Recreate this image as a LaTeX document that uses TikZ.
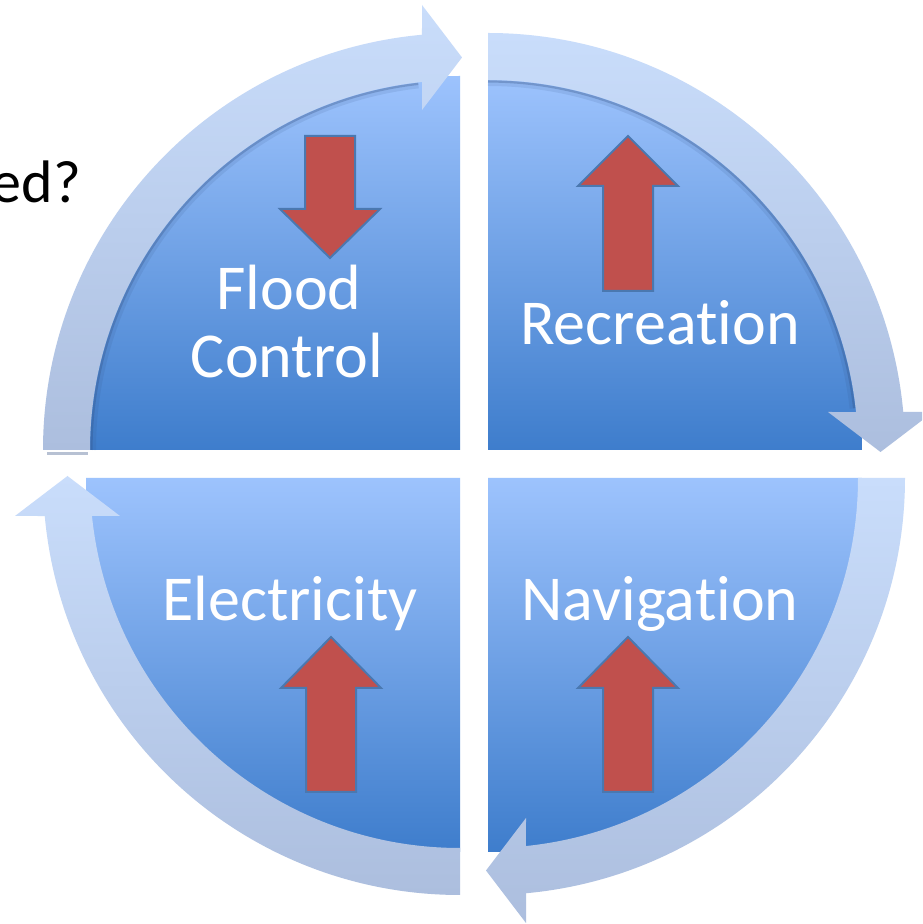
\documentclass[tikz,border=0pt]{standalone}
\usepackage{fontspec}
\setmainfont{Carlito}[Ligatures={NoCommon}]
\usetikzlibrary{calc}
\definecolor{sectorTop}{RGB}{157,195,253}
\definecolor{sectorBot}{RGB}{62,125,204}
\definecolor{ringTop}{RGB}{201,221,251}
\definecolor{ringBot}{RGB}{172,190,222}
\definecolor{ringShadow}{RGB}{50,80,130}
\definecolor{arrowRed}{RGB}{192,80,77}
\definecolor{arrowLine}{RGB}{74,120,176}
\tikzset{
  sectorshade/.style={top color=sectorTop, bottom color=sectorBot, draw=none},
  ringshade/.style={top color=ringTop, bottom color=ringBot, draw=none},
  redarrowstyle/.style={fill=arrowRed, draw=arrowLine, line width=2pt, line join=miter},
  whitelabel/.style={text=white, font=\fontsize{64}{68}\selectfont, inner sep=0pt, anchor=base},
  darklabel/.style={text=black, font=\fontsize{60}{64}\selectfont, inner sep=0pt, anchor=base east}
}
% ring arrow: #1 centre coordinate name, #2 rotation angle
\newcommand\ringarrow[2]{%
  \pgfmathsetmacro\rA{180+#2}%
  \pgfmathsetmacro\rB{95.23+#2}%
  \pgfmathsetmacro\rC{90+#2}%
  \pgfmathsetmacro\rD{95.89+#2}%
  \pgfmathsetmacro\rE{#2}%
  \path[ringshade] ($(#1)+(\rA:417pt)$) arc[start angle=\rA, end angle=\rB, radius=417pt]
     -- ($(#1)+(\rC:445pt)+(\rA:38pt)$)
     -- ($(#1)+(\rC:392.5pt)+(\rE:2pt)$)
     -- ($(#1)+(\rC:340pt)+(\rA:38pt)$)
     -- ($(#1)+(\rD:370pt)$) arc[start angle=\rD, end angle=\rA, radius=370pt] -- cycle;
}
\newcommand\ringshadow[2]{%
  \pgfmathsetmacro\rA{180+#2}%
  \pgfmathsetmacro\rD{96.5+#2}%
  \draw[ringShadow, opacity=0.12, line width=6pt] ($(#1)+(\rA:367pt)$) arc[start angle=\rA, end angle=\rD, radius=367pt];
  \draw[ringShadow, opacity=0.30, line width=2.2pt] ($(#1)+(\rA:368.5pt)$) arc[start angle=\rA, end angle=\rD, radius=368.5pt];
}
% red arrow: centre x, tip y, head-base y, shaft-end y
\newcommand\redarrow[4]{%
  \draw[redarrowstyle] (#1-25,#4) -- (#1-25,#3) -- (#1-50,#3) -- (#1,#2)
     -- (#1+50,#3) -- (#1+25,#3) -- (#1+25,#4) -- cycle;
}
\begin{document}
\begin{tikzpicture}[x=1pt,y=1pt]
\useasboundingbox (0,0) rectangle (922,924);
\fill[white] (0,0) rectangle (922,924);
\clip (0,0) rectangle (922,924);

\coordinate (ctl) at (460,474);
\coordinate (ctr) at (488,474);
\coordinate (cbl) at (460,446);
\coordinate (cbr) at (488,446);

% question text (cut at the left edge, as in the reference)
\node[darklabel] (question) at (81,721) {ed?};

% quarter sectors
\path[sectorshade] (ctl) -- ++(-374,0) arc[start angle=180, end angle=90, radius=374pt] -- cycle;
\path[sectorshade] (ctr) -- ++(0,374) arc[start angle=90, end angle=0, radius=374pt] -- cycle;
\path[sectorshade] (cbl) -- ++(0,-374) arc[start angle=270, end angle=180, radius=374pt] -- cycle;
\path[sectorshade] (cbr) -- ++(374,0) arc[start angle=0, end angle=-90, radius=374pt] -- cycle;

% shadows under the top ring arrows
\ringshadow{ctl}{0}
\ringshadow{ctr}{-90}
\fill[ringShadow, opacity=0.35] (47,472) rectangle (88,469);

% circular arrows
\ringarrow{ctl}{0}
\ringarrow{ctr}{-90}
\ringarrow{cbr}{-180}
\ringarrow{cbl}{90}

% red arrows
\redarrow{330}{666}{715}{788}
\redarrow{628}{788}{738}{633}
\redarrow{331}{287}{236}{132}
\redarrow{628}{287}{236}{132}

% labels
\node[whitelabel] (flood) at (289,614) {Flood};
\node[whitelabel] (control) at (287,546) {Control};
\node[whitelabel] (recreation) at (660,579) {Recreation};
\node[whitelabel] (electricity) at (290,303) {Electricity};
\node[whitelabel] (navigation) at (660,303) {Navigation};
\end{tikzpicture}
\end{document}
